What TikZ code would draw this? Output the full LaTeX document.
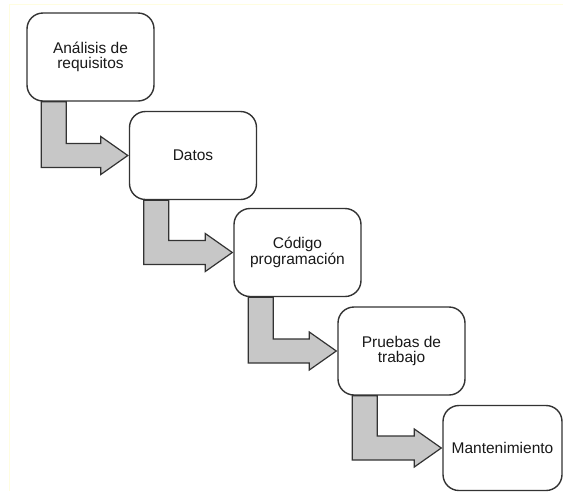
\documentclass[tikz,border=0pt]{standalone}
\usepackage{fontspec}
\setmainfont{Liberation Sans}
\usetikzlibrary{calc}

\tikzset{
  etapa/.style={draw=black!80, line width=1.4pt, rounded corners=16pt, fill=white,
    minimum width=127pt, minimum height=88pt, align=center,
    font=\fontsize{15.5}{14.5}\selectfont, text=black!90},
  flecha/.style={draw=black!80, line width=1.2pt, fill=black!22, line join=miter}
}

\begin{document}
\begin{tikzpicture}[x=1pt, y=-1pt]
  \useasboundingbox (0,0) rectangle (563,491);

  % Marco
  \draw[yellow!12, line width=1pt] (9,491) -- (9,4) -- (563,4);

  % Etapas
  \node[etapa] (analisis) at (90.5,57) {Análisis de\\requisitos};
  \node[etapa] (datos) at (193,155.5) {Datos};
  \node[etapa] (codigo) at (297.5,252.5) {Código\\programación};
  \node[etapa] (pruebas) at (401.5,351) {Pruebas de\\trabajo};
  \node[etapa, minimum width=119pt, minimum height=85pt] (mant) at (502.5,448) {Mantenimiento};

  % Flechas
  \foreach \desde/\hasta in {analisis/datos, datos/codigo, codigo/pruebas, pruebas/mant} {
    \coordinate (izq) at ($(\desde.south west)+(15,0)$);
    \coordinate (der) at ($(\desde.south west)+(40,0)$);
    \coordinate (sup) at ($(\hasta.west)+(-28,-12)$);
    \coordinate (inf) at ($(\hasta.west)+(-28,12)$);
    \draw[flecha] (izq) -- (izq |- inf) -- (inf) -- ($(inf)+(0,7)$)
      -- ($(\hasta.west)+(-1,0)$) -- ($(sup)+(0,-7)$) -- (sup)
      -- (der |- sup) -- (der) -- cycle;
  }
\end{tikzpicture}
\end{document}
